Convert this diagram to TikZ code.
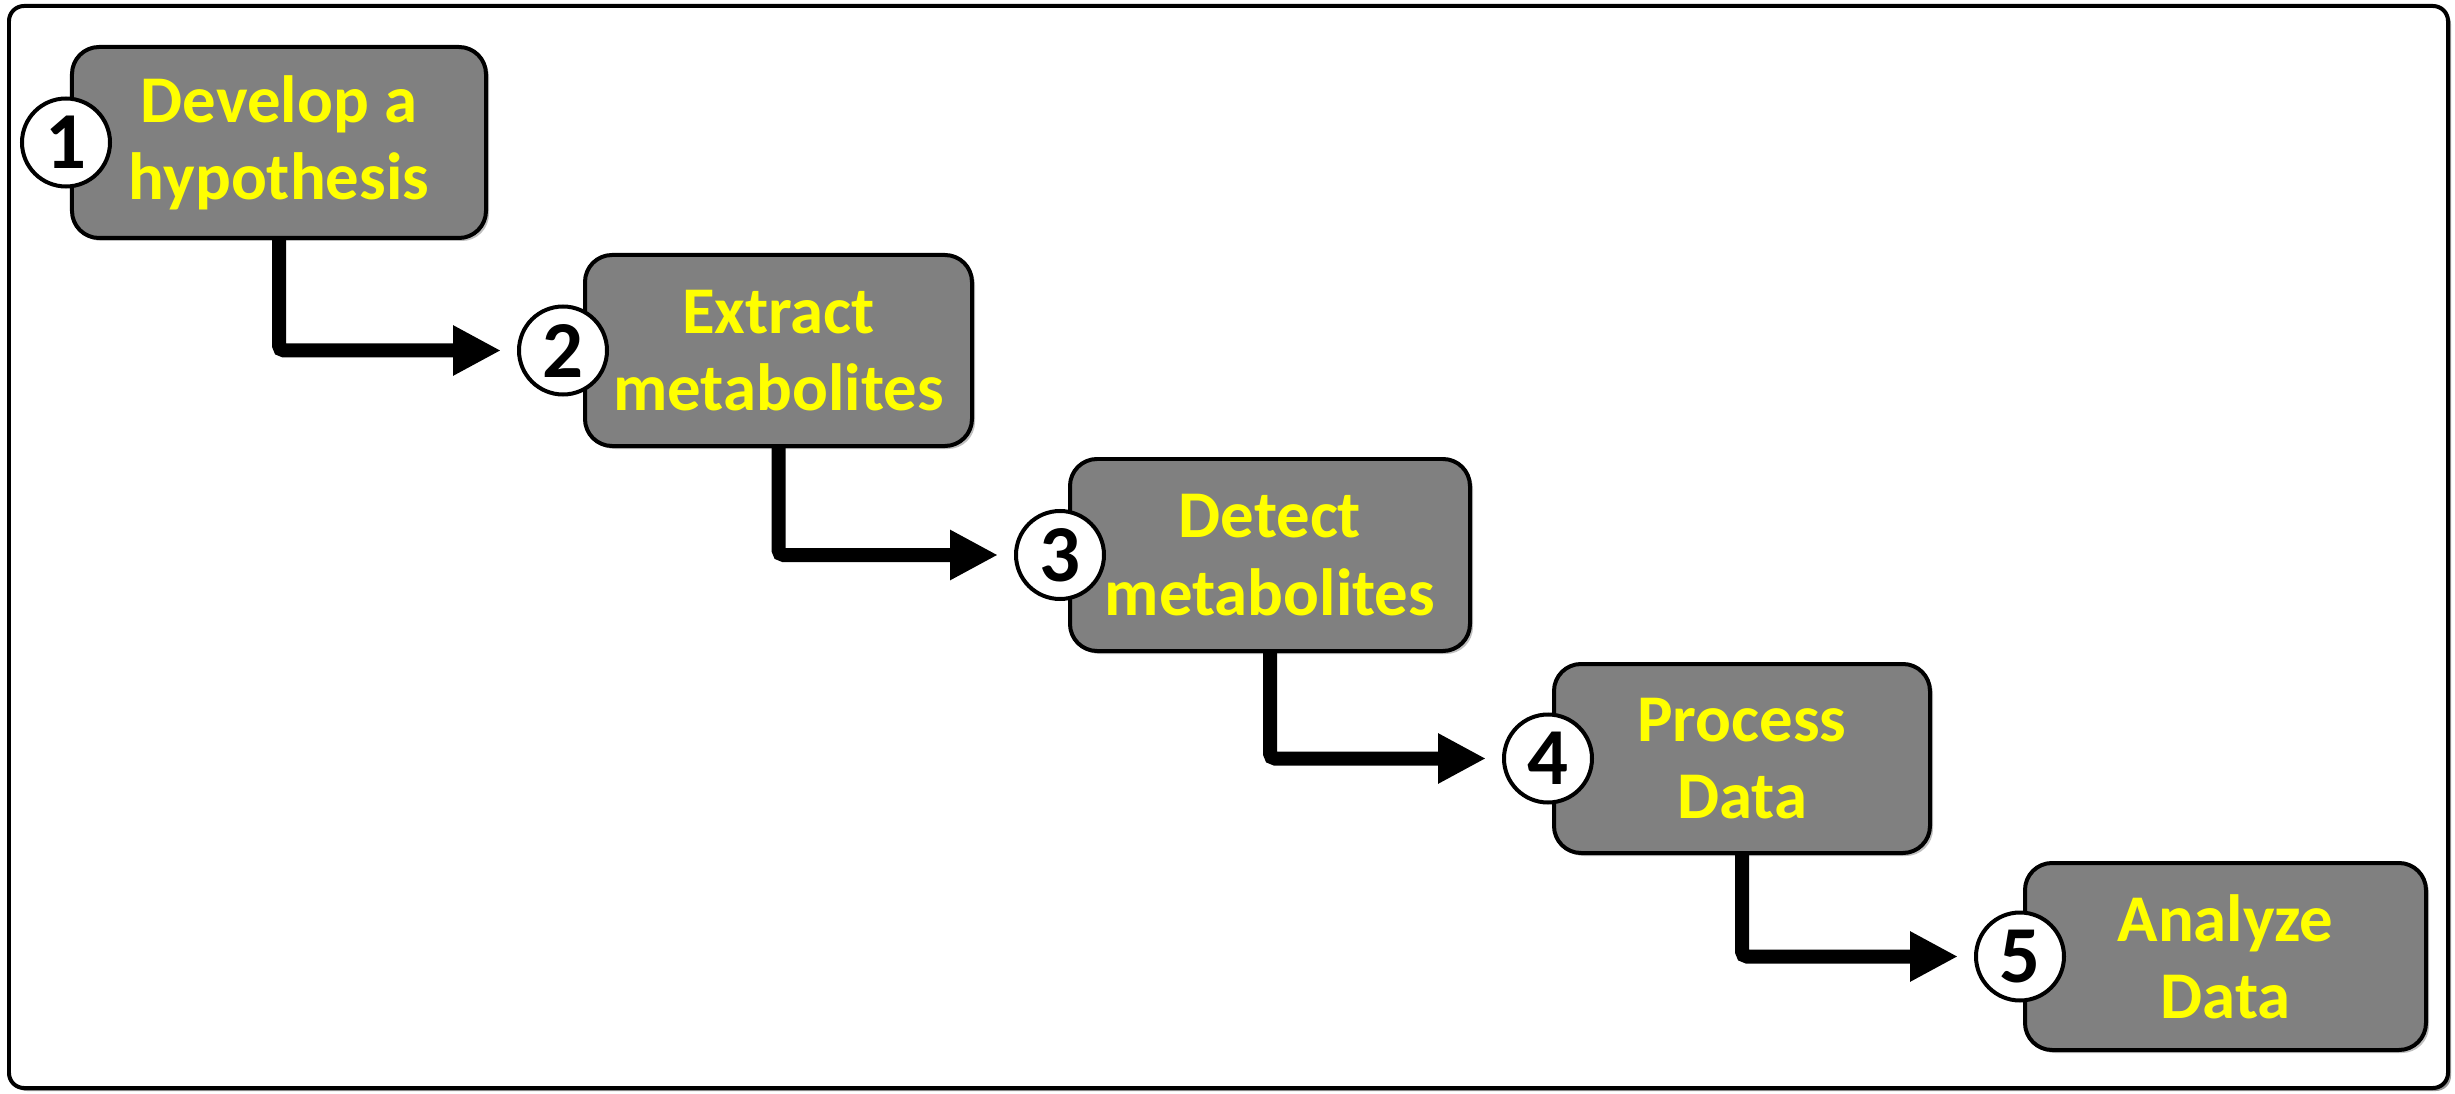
\documentclass[tikz,border=0pt]{standalone}
\usepackage{fontspec}
\setmainfont{Carlito}
\usepackage{tikz}
\usetikzlibrary{arrows.meta,positioning,shadows}
\usepackage{xcolor}
\definecolor{stepgray}{HTML}{808080}
\definecolor{steptext}{HTML}{FFFF00}

\begin{document}
\begin{tikzpicture}[
    stepbox/.style={draw=black, line width=0.04cm, fill=stepgray,
      rounded corners=0.27cm, align=center, text=steptext,
      font=\fontsize{19}{22}\selectfont\bfseries,
      drop shadow={shadow xshift=0.03cm, shadow yshift=-0.03cm,
        opacity=0.25, fill=black}},
    numdot/.style={circle, draw=black, line width=0.04cm, fill=white,
      minimum size=0.88cm, inner sep=0pt,
      font=\fontsize{23}{23}\selectfont\bfseries},
    flow/.style={-{Triangle[length=0.48cm, width=0.47cm]},
      line width=0.14cm, rounded corners=0.05cm, shorten >=0.16cm},
  ]
  \useasboundingbox (0,0) rectangle (24.55,10.93);

  % Frame
  \draw[line width=0.04cm, rounded corners=0.15cm, fill=white,
        drop shadow={shadow xshift=0.03cm, shadow yshift=-0.03cm,
          opacity=0.4, fill=black}]
    (0.09,0.05) rectangle (24.48,10.87);

  % Steps
  \node[stepbox, minimum width=4.14cm, minimum height=1.91cm]
    (b1) at (2.79,9.505) {Develop a\\hypothesis};
  \node[stepbox, minimum width=3.87cm, minimum height=1.91cm]
    (b2) at (7.785,7.425) {Extract\\metabolites};
  \node[stepbox, minimum width=4.00cm, minimum height=1.92cm]
    (b3) at (12.70,5.38) {Detect\\metabolites};
  \node[stepbox, minimum width=3.76cm, minimum height=1.89cm]
    (b4) at (17.42,3.345) {Process\\Data};
  \node[stepbox, minimum width=4.01cm, minimum height=1.87cm]
    (b5) at (22.255,1.365) {Analyze\\Data};

  % Numbers
  \node[numdot] (n1) at (0.66,9.505) {1};
  \node[numdot] (n2) at (5.63,7.425) {2};
  \node[numdot] (n3) at (10.60,5.38) {3};
  \node[numdot] (n4) at (15.48,3.345) {4};
  \node[numdot] (n5) at (20.20,1.365) {5};

  % Arrows
  \foreach \i [count=\j from 2] in {1,...,4} {
    \draw[flow] (b\i.south) |- (n\j);
  }

\end{tikzpicture}
\end{document}
